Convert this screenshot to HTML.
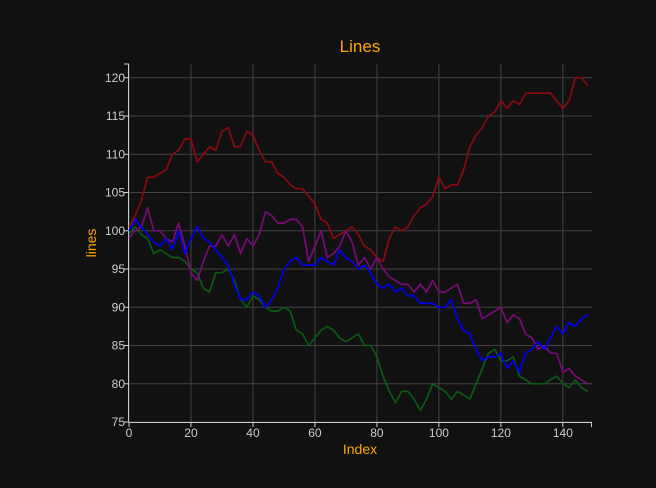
<!DOCTYPE html>
<html><head><meta charset="utf-8"><style>
html,body{margin:0;padding:0;background:#111;}
svg{display:block;font-family:"Liberation Sans",sans-serif;}
</style></head><body>
<svg id="chart" width="656" height="488">
<rect x="0" y="0" width="656" height="488" fill="#111"/>
<text x="360" y="52" text-anchor="middle" fill="#ffa500" font-size="17">Lines</text>
<text x="360" y="454" text-anchor="middle" fill="#ffa500" font-size="14">Index</text>
<text x="96" y="243" text-anchor="middle" fill="#ffa500" font-size="14" transform="rotate(-90 96 243)">lines</text>
<g id="grid"></g><g id="axes"></g><g id="series"></g>
</svg>
<script>
const idx = [0,2,4,6,8,10,12,14,16,18,20,22,24,26,28,30,32,34,36,38,40,42,44,46,48,50,52,54,56,58,60,62,64,66,68,70,72,74,76,78,80,82,84,86,88,90,92,94,96,98,100,102,104,106,108,110,112,114,116,118,120,122,124,126,128,130,132,134,136,138,140,142,144,146,148];
const redVals = [100.5,102,104,107,107,107.5,108,110,110.5,112,112,109,110,111,110.5,113,113.5,111,111,113,112.5,110.5,109,109,107.5,107,106,105.5,105.5,104.5,103.5,101.5,101,99,99.5,100,100.5,99.5,98,97.5,96.5,96,99,100.5,100,100.5,102,103,103.5,104.5,107,105.5,106,106,108,111,112.5,113.5,115,115.5,117,116,117,116.5,118,118,118,118,118,117,116,117,120,120,119];
const purpleVals = [99,100,100.5,103,100,100,99,98.5,101,98,94.5,93.5,96,98,98,99.5,98,99.5,97,99,98,99.5,102.5,102,101,101,101.5,101.5,100.5,96,98,100,96.5,97,98,100,98.5,95.5,96.5,95,96.5,95,94,93.5,93,93,92,93,92,93.5,92,92,92.5,93,90.5,90.5,91,88.5,89,89.5,90,88,89,88.5,86.5,86,84.5,85,84,84,81.5,82,81,80.5,80];
const blueVals = [100,101.5,100.5,99.5,98.5,98,99,97.5,100,97,99,100.5,99,98.5,97.5,96.5,95.5,93,91,91,92,91.5,90,91,92.5,95,96,96.5,95.5,95.5,95.5,96.5,96,95.5,97.5,96.5,96,95,95.5,94.5,93,92.5,93,92,92.5,91.5,91.5,90.5,90.5,90.5,90,90,91,88.5,87,86.5,84.5,83,83.5,83.5,84,82,83,81.5,84,84.5,85.5,84.5,86,87.5,86.5,88,87.5,88.5,89];
const greenVals = [99.5,100.5,99.5,99,97,97.5,97,96.5,96.5,96,95,94.5,92.5,92,94.5,94.5,95,93.5,91,90,91.5,91,90,89.5,89.5,90,89.5,87,86.5,85,86,87,87.5,87,86,85.5,86,86.5,85,85,83.5,81,79,77.5,79,79,78,76.5,78,80,79.5,79,78,79,78.5,78,80,82,84,84.5,83,83,83.5,81,80.5,80,80,80,80.5,81,80,79.5,80.5,79.5,79];
const xTicks = [0,20,40,60,80,100,120,140];
const yTicks = [75,80,85,90,95,100,105,110,115,120];
const X0=129, X1=592, Y0=422, Y1=64, XMAX=149.4, YMIN=75, YMAX=121.8;
function xs(v){return X0+(v/XMAX)*(X1-X0);}
function ys(v){return Y0-(v-YMIN)/(YMAX-YMIN)*(Y0-Y1);}
const NS="http://www.w3.org/2000/svg";
const grid=document.getElementById('grid'), axes=document.getElementById('axes'), ser=document.getElementById('series');
function mk(tag,attrs,parent){const e=document.createElementNS(NS,tag);for(const k in attrs)e.setAttribute(k,attrs[k]);parent.appendChild(e);return e;}
xTicks.forEach(t=>{
  const g=mk('line',{x1:xs(t),x2:xs(t),y1:Y1,y2:Y0,stroke:'#444','stroke-width':1},grid);
  
  
  mk('line',{x1:xs(t),x2:xs(t),y1:Y0,y2:Y0+5,stroke:'#ccc'},axes);
  const l=mk('text',{x:xs(t),y:Y0+15,'text-anchor':'middle',fill:'#ccc','font-size':12},axes);
  l.textContent=t;
  
  
});
yTicks.forEach(t=>{
  const g=mk('line',{x1:X0,x2:X1,y1:ys(t),y2:ys(t),stroke:'#444','stroke-width':1},grid);
  
  
  mk('line',{x1:X0-5,x2:X0,y1:ys(t),y2:ys(t),stroke:'#ccc'},axes);
  const l=mk('text',{x:X0-4,y:ys(t)+4,'text-anchor':'end',fill:'#ccc','font-size':12},axes);
  l.textContent=t;
  
  
});
const xa=mk('line',{x1:X0,x2:X1,y1:Y0+0.5,y2:Y0+0.5,stroke:'#ccc'},axes);


const ya=mk('line',{x1:X0-0.5,x2:X0-0.5,y1:Y1,y2:Y0,stroke:'#ccc'},axes);


mk('line',{x1:X0-5,x2:X0,y1:Y1,y2:Y1,stroke:'#ccc'},axes);
mk('line',{x1:X1-0.5,x2:X1-0.5,y1:Y0,y2:Y0+5,stroke:'#ccc'},axes);
function draw(vals,color,name){
  const d=vals.map((v,i)=>(i?'L':'M')+xs(idx[i]).toFixed(1)+','+ys(v).toFixed(1)).join('');
  const p=mk('path',{d:d,fill:'none',stroke:color,'stroke-width':1.7,'stroke-linejoin':'round'},ser);
  
  
}
draw(greenVals,'#0b5a14','series-green');
draw(redVals,'#8a0a12','series-red');
draw(purpleVals,'#7a0a7a','series-purple');
draw(blueVals,'#0000f0','series-blue');
</script>
</body></html>
